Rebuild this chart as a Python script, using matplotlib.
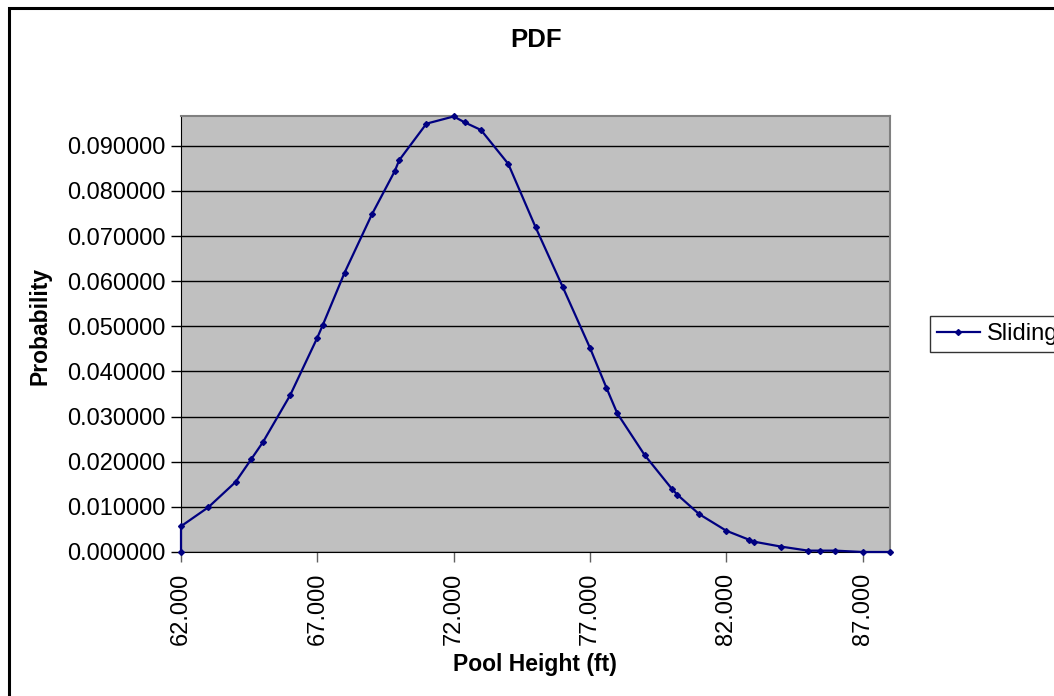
import matplotlib
matplotlib.use("Agg")
import matplotlib.pyplot as plt
from matplotlib.patches import Rectangle
from matplotlib.ticker import FormatStrFormatter, MultipleLocator

plt.rcParams['font.family'] = ['Liberation Sans', 'DejaVu Sans']

# pool height (ft) and probability
pool_height = [62, 62, 63, 64, 64.58, 65, 66, 67, 67.2, 68, 69, 69.84, 70, 71, 72,
               72.4, 73, 74, 75, 76, 77, 77.6, 78, 79, 80, 80.2, 81, 82, 82.84, 83,
               84, 85, 85.42, 86, 87, 88]
probability = [0.0, 0.0057, 0.0099, 0.0155, 0.0206, 0.0243, 0.0347, 0.0475, 0.0503,
               0.0619, 0.0748, 0.0844, 0.0868, 0.0949, 0.0965, 0.0952, 0.0935, 0.0860,
               0.0720, 0.0587, 0.0452, 0.0364, 0.0307, 0.0215, 0.0140, 0.0127, 0.0084,
               0.0047, 0.0027, 0.0023, 0.0012, 0.0003, 0.0003, 0.0003, 0.0, 0.0]
x_ticks = [62, 67, 72, 77, 82, 87]

W, H = 1054, 696
fig = plt.figure(figsize=(W / 100, H / 100), dpi=100)

# chart area border (runs off the right and bottom edge)
fig.patches.append(Rectangle((8.5 / W, -0.1), 1.2, 1 - 7.5 / H + 0.1,
                             transform=fig.transFigure, fill=False,
                             edgecolor='black', linewidth=2.2))

ax = fig.add_axes([181 / W, 1 - 552 / H, (890 - 181) / W, (552 - 116) / H])
ax.set_facecolor('#C0C0C0')

ax.plot(pool_height, probability, color='#000080', lw=1.6, marker='D',
        markersize=3, clip_on=False, zorder=3, label='Sliding')

ax.set_xlim(62, 88)
ax.set_ylim(0, 0.0966)
ax.set_xticks(x_ticks)
ax.yaxis.set_major_locator(MultipleLocator(0.01))
ax.xaxis.set_major_formatter(FormatStrFormatter('%.3f'))
ax.yaxis.set_major_formatter(FormatStrFormatter('%.6f'))
ax.grid(axis='y', color='black', lw=1)
ax.set_axisbelow(True)

ax.tick_params(axis='y', labelsize=17, length=7, width=1, pad=4)
ax.tick_params(axis='x', labelsize=17, length=7, width=1, pad=8,
               labelrotation=90, color='#606060')

for s in ['left', 'bottom']:
    ax.spines[s].set_color('black')
for s in ['top', 'right']:
    ax.spines[s].set_color('#808080')
    ax.spines[s].set_linewidth(1.5)

fig.text(536 / W, 1 - 40 / H, 'PDF', ha='center', va='center',
         fontsize=18.5, fontweight='bold')
fig.text(535 / W, 1 - 664 / H, 'Pool Height (ft)', ha='center', va='center',
         fontsize=16.5, fontweight='bold')
fig.text(40 / W, 1 - 326 / H, 'Probability', ha='center', va='center',
         rotation=90, fontsize=16.5, fontweight='bold')

leg = fig.legend(loc='center left', bbox_to_anchor=(930 / W, 1 - 334 / H),
                 frameon=True, fancybox=False, edgecolor='black',
                 fontsize=17, handlelength=1.8, handletextpad=0.3,
                 borderpad=0.3, borderaxespad=0)
leg.get_frame().set_linewidth(1)

fig.savefig('out.png', dpi=100)
